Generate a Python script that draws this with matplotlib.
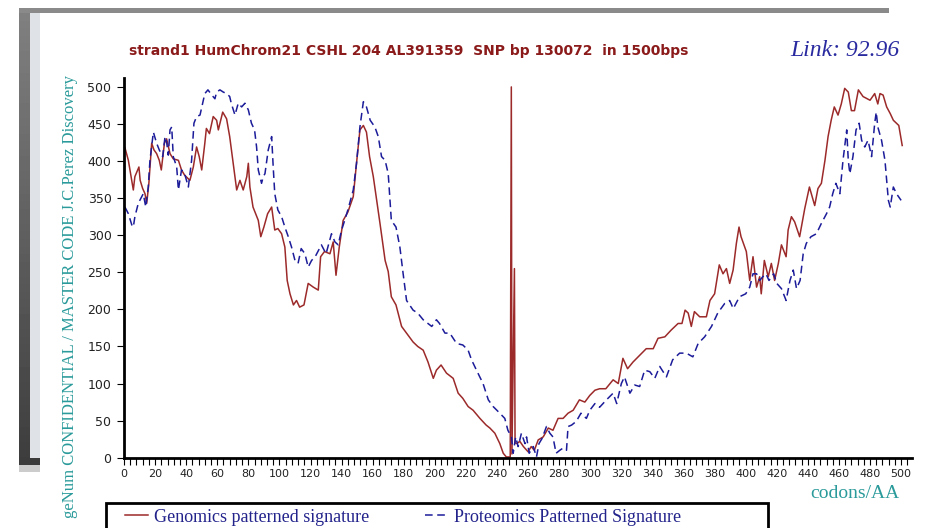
import numpy as np
import matplotlib
matplotlib.use("Agg")
import matplotlib.pyplot as plt
from matplotlib.patches import Rectangle

# Genomics patterned signature (red, solid)
gen_codon = [0.6, 2.8, 6, 7, 9.6, 10.4, 12, 13.5, 14.6, 16, 17.8, 19.3, 21, 22.7, 24, 26, 27.4, 29.6,
             31.7, 35, 37, 39, 42.4, 44.6, 46.7, 48.4, 50, 52, 53, 55, 57.4, 59.6, 60.7, 63.5, 66, 68,
             70, 72.5, 74.6, 76.7, 79, 80, 81, 83, 86.4, 88, 90, 92.4, 95, 97, 99, 101.4, 103.5, 105,
             106.8, 109, 111, 113, 115.8, 118.5, 121.8, 125, 126.5, 129, 132.5, 134.6, 136.4, 138.5,
             141, 144, 147.5, 149.6, 151.8, 154, 156, 158, 160.4, 164.7, 168, 170, 172, 175, 178.6,
             181.8, 186, 189, 192.5, 195.6, 199, 201, 204, 207.5, 211.8, 215, 218, 221.4, 224.6, 229,
             233, 235.4, 238.6, 241.8, 244, 246, 248.5, 249.2, 249.6, 251.2, 251.6, 252.6, 254.7,
             257, 260, 262, 264,
             266.5, 269.7, 273, 276, 279.3, 282.5, 285.7, 289, 293, 296.5, 299.7, 303, 306, 310,
             314.7, 318, 321, 324, 327.5, 331.8, 336, 340.5, 343.6, 348, 352, 356.5, 359, 361, 363,
             365, 367, 370.4, 374.7, 377, 380, 383, 385.4, 387.6, 389.7, 391.9, 394, 395.7, 397,
             400.4, 402.6, 404.7, 407, 409, 410, 412, 414.5, 416.5, 418.6, 421, 423, 426, 427.3,
             429.4, 431.5, 434.7, 438, 441, 444.4, 446.5, 448.7, 451, 453, 455, 457, 459.4, 461.5,
             463.7, 466, 468, 470, 472.5, 475.5, 480, 483, 485, 486.4, 488.4, 490.7, 493, 495, 498.5,
             500.7]
gen_value = [418, 401, 361, 379, 392, 374, 363, 356, 343, 370, 424, 415, 410, 401, 388, 424, 430, 410,
             403, 401, 388, 381, 374, 392, 419, 406, 388, 424, 444, 437, 460, 455, 442, 466, 457, 433,
             401, 361, 374, 361, 379, 397, 365, 338, 320, 298, 311, 329, 338, 307, 309, 302, 284, 239,
             221, 206, 212, 203, 206, 235, 230, 226, 271, 278, 275, 291, 246, 284,
             320, 331, 352, 397, 442, 448, 439, 406, 379, 316, 266, 251, 217, 206, 177,
             168, 156, 150, 145, 129, 107, 118, 125, 114, 107, 87, 80, 69, 64, 53,
             44, 40, 33, 19, 6, 1, 1, 500, 5, 255, 20, 19, 22,
             15, 8, 15, 10,
             24, 28, 40, 37, 53, 53, 60, 64, 78, 75, 84, 91, 93, 93,
             105, 100, 134, 120, 129, 138, 147, 147, 161, 163, 172, 181, 181, 199, 195,
             177, 197, 190, 190, 212, 221, 260, 248, 255, 235, 253, 289, 311, 298,
             278, 239, 271, 230, 244, 221, 266, 244, 262, 239, 262, 287, 271, 307,
             325, 318, 298, 336, 365, 340, 363, 370, 401, 433, 455, 473, 462, 477,
             498, 493, 468, 468, 496, 487, 482, 491, 477, 491, 489, 473, 464, 455, 448,
             421]

# Proteomics Patterned Signature (blue, dashed)
prot_codon = [0.6, 2.8, 5, 6, 7, 9.2, 11.4, 12.4, 14, 15.6, 16.7, 18.9, 21, 22.7, 24.9, 26.4, 27.4,
              28.5, 29.6, 30.7, 31.7, 33.9, 35, 37, 39, 41.4, 43.5, 45, 46.7, 48.9, 50.6, 52, 54,
              56.5, 58.5, 59.6, 61.7, 63.9, 66, 68, 69, 71.4, 73.5, 75.7, 77.8, 80, 82, 84, 85.3,
              86.4, 88.5, 89.6, 90.7, 92.8, 95, 96, 97, 99, 101.4, 103.5, 105.7, 107.8, 110, 112,
              114, 116.4, 118.5, 120.7, 123, 127, 130, 133.5, 135.7, 137.8, 140, 142, 144.3, 147.5,
              149.6, 151.8, 154, 156, 158.4, 161.4, 163.6, 165.7, 168, 170, 172, 175, 177.5, 179.6,
              181.8, 186, 189, 192.5, 198, 201, 203, 206.5, 209.6, 214, 218, 221.4, 223.6, 226.8,
              231, 234.4, 237.5, 241.8, 245, 247, 249.3, 250.4, 252, 253.6, 255.7, 258, 259, 260.7,
              263.3, 265.4, 267, 269, 271.8, 274, 276, 278, 280.4, 282.5, 284.7, 285.7, 288, 291,
              294, 297.5, 299.7, 303, 306, 310.4, 314.7, 317, 320, 322, 325.5, 328.6, 331.8, 335,
              338.3, 341.5, 344.7, 349, 353, 357.5, 361.8, 366, 369.4, 373.6, 378, 382, 386.5,
              389.7, 392, 396, 400, 402.6, 404.7, 407, 409, 411, 413, 415, 418, 420, 423, 426, 428.5,
              430.6, 432.7, 435, 437, 439, 442, 445.5, 448.7, 452, 454, 456, 458, 460.6, 462.6, 465,
              466, 467, 469, 471, 473, 474.6, 476.6, 478.7, 481, 483, 484, 485, 487.4, 489.6, 491.8,
              493, 495, 497, 500]
prot_value = [338, 329, 314, 311, 325, 343, 352, 356, 338, 365, 401, 439, 424, 415, 406, 433, 426,
              408, 442, 446, 406, 392, 361, 388, 383, 365, 401, 451, 460, 462, 478, 491, 496,
              489, 484, 493, 496, 493, 491, 487, 478, 462, 478, 473, 478, 469, 451, 442, 419,
              388, 370, 379, 383, 415, 433, 392, 356, 334, 325, 311, 298, 284, 266, 262,
              282, 275, 257, 266, 271, 287, 275, 302, 291, 287, 307, 320, 336, 361,
              397, 446, 480, 473, 455, 446, 433, 406, 401, 383, 320, 311, 284, 248,
              212, 199, 195, 186, 177, 186, 181, 168, 168, 154, 152, 145, 132, 118,
              100, 78, 69, 60, 53, 37, 28, 6, 28, 15, 33, 19, 28, 6,
              15, 1, 19, 26, 42, 33, 28, 6, 10, 13, 10, 42, 44, 49,
              60, 53, 64, 73, 68, 78, 87, 73, 100, 109, 87, 98, 96, 118,
              116, 107, 123, 109, 132, 141, 141, 136, 154, 163, 177, 195, 208,
              212, 201, 217, 221, 230, 248, 248, 239, 244, 248, 239, 248, 235, 228, 212, 239,
              253, 228, 239, 275, 289, 298, 302, 316, 329, 338, 356, 370, 356, 401, 442,
              401, 383, 406, 442, 451, 428, 419, 428, 406, 451, 466, 446, 428, 401, 347,
              338, 365, 356, 347]

y_ticks = [0, 50, 100, 150, 200, 250, 300, 350, 400, 450, 500]
x_ticks = list(range(0, 501, 20))

W, H = 933, 528
RED = "#9c2a2a"
BLUE = "#1c1c9a"
TEAL = "#2a9a9a"
NAVY = "#23238c"


def fx(px):
    return px / W


def fy(py):
    return 1 - py / H


fig = plt.figure(figsize=(W / 100, H / 100), dpi=100)
fig.patch.set_facecolor("white")

# slide frame: grey bars top and left
fig.add_artist(Rectangle((fx(19), fy(13)), fx(870) - fx(0), 5 / H,
                         transform=fig.transFigure, color="#8a8a8a", lw=0))
band = fig.add_axes([fx(19), fy(465), 11 / W, (465 - 13) / H])
band.imshow(np.linspace(0.5, 0.24, 60).reshape(-1, 1), cmap="gray", vmin=0, vmax=1,
            aspect="auto")
band.axis("off")
fig.add_artist(Rectangle((fx(30), fy(458)), 10 / W, (458 - 13) / H,
                         transform=fig.transFigure, color="#dfe2e6", lw=0))
fig.add_artist(Rectangle((fx(30), fy(465)), 10 / W, 7 / H,
                         transform=fig.transFigure, color="#3a3a3a", lw=0))
fig.add_artist(Rectangle((fx(19), fy(472)), 21 / W, 7 / H,
                         transform=fig.transFigure, color="#cccccc", lw=0))

# main plot area
ax = fig.add_axes([fx(124), fy(457.7), (912 - 124) / W, (457.7 - 78) / H])
ax.plot(gen_codon, gen_value, color=RED, lw=1.1, label="Genomics patterned signature")
ax.plot(prot_codon, prot_value, color=BLUE, lw=1.1, dashes=(5, 3),
        label="Proteomics Patterned Signature")

ax.set_xlim(0, 507)
ax.set_ylim(0, 512)
ax.set_xticks(x_ticks)
ax.set_xticks(range(0, 505, 4), minor=True)
ax.set_yticks(y_ticks)
for side in ("top", "right"):
    ax.spines[side].set_visible(False)
for side in ("left", "bottom"):
    ax.spines[side].set_linewidth(2.0)
ax.tick_params(axis="x", which="both", direction="out", length=5, width=0.8, pad=3,
               labelsize=8, labelcolor="#222222")
ax.tick_params(axis="y", direction="out", length=5, width=0.8, pad=4,
               labelsize=9, labelcolor="#222222")

# texts
fig.text(fx(409), fy(51), "strand1 HumChrom21 CSHL 204 AL391359  SNP bp 130072  in 1500bps",
         ha="center", va="center", color="#8b1a1a", fontsize=10, fontweight="bold")
fig.text(fx(900), fy(51), "Link: 92.96", ha="right", va="center", color="#2a2aa0",
         fontsize=17, style="italic", family="Liberation Serif")
fig.text(fx(70), fy(297), "geNum CONFIDENTIAL / MASTER CODE J.C.Perez Discovery",
         rotation=90, ha="center", va="center", color=TEAL, fontsize=12,
         family="Liberation Serif")
fig.text(fx(855), fy(493), "codons/AA", ha="center", va="center", color=TEAL,
         fontsize=14, family="Liberation Serif")

# legend box, cut by the bottom edge like in the original screenshot
fig.add_artist(Rectangle((fx(106), fy(540)), (768 - 106) / W, (540 - 503) / H,
                         transform=fig.transFigure, fill=False, ec="black", lw=2))
leg = fig.legend(loc="center left", bbox_to_anchor=(fx(109), fy(517)), ncol=2,
                 frameon=False, handlelength=1.25, handletextpad=0.35, columnspacing=3.1,
                 prop={"family": "Liberation Serif", "size": 13})
for t in leg.get_texts():
    t.set_color(NAVY)

fig.savefig("out.png", dpi=100)
